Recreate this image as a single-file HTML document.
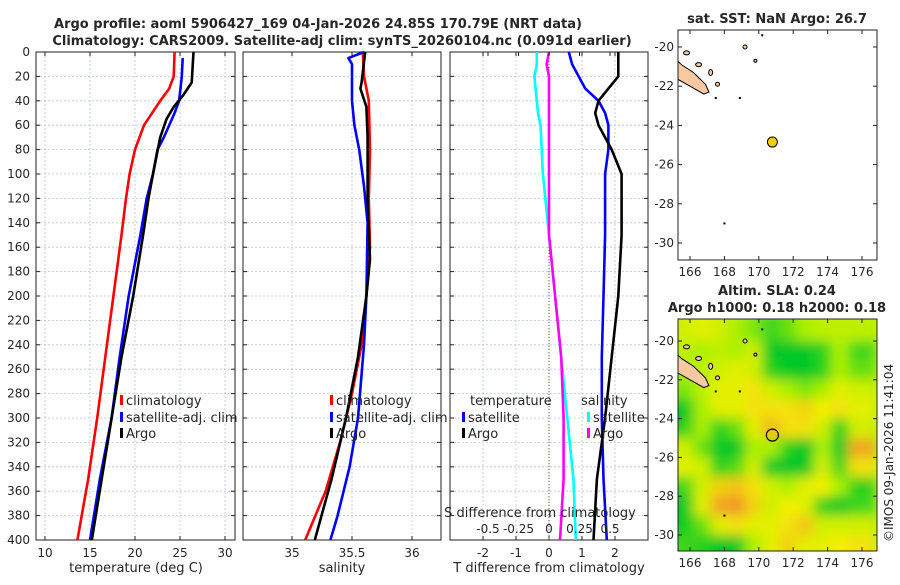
<!DOCTYPE html>
<html><head><meta charset="utf-8"><style>
body{margin:0;background:#fff;width:900px;height:580px;overflow:hidden}
svg{font-family:"DejaVu Sans","Liberation Sans",sans-serif;fill:#262626}
</style></head><body>
<svg id="c" width="900" height="580" viewBox="0 0 900 580">
<defs>
<filter id="bl" x="-5%" y="-5%" width="110%" height="110%"><feGaussianBlur stdDeviation="6"/></filter>
<clipPath id="mc2"><rect x="678" y="319" width="199" height="232"/></clipPath>
<clipPath id="mc1"><rect x="678" y="30" width="199" height="230"/></clipPath>
</defs>
<text x="318" y="28" text-anchor="middle" font-weight="bold" font-size="13">Argo profile: aoml 5906427_169 04-Jan-2026 24.85S 170.79E (NRT data)</text>
<text x="342" y="45" text-anchor="middle" font-weight="bold" font-size="13">Climatology: CARS2009. Satellite-adj clim: synTS_20260104.nc (0.091d earlier)</text>
<text x="777" y="23" text-anchor="middle" font-weight="bold" font-size="13">sat. SST: NaN Argo: 26.7</text>
<text x="777" y="295" text-anchor="middle" font-weight="bold" font-size="13">Altim. SLA: 0.24</text>
<text x="777" y="312" text-anchor="middle" font-weight="bold" font-size="13">Argo h1000: 0.18 h2000: 0.18</text>
<text transform="translate(893,542) rotate(-90)" font-size="12">©IMOS 09-Jan-2026 11:41:04</text>
<g id="g"></g>
</svg>
<script>
const tDepth=[0,20,30,40,60,80,100,120,150,200,250,300,350,400];
const tClim=[24.4,24.3,23.8,22.8,21,20,19.4,19,18.5,17.6,16.7,15.8,14.8,13.6];
const sDepthSat=[5,20,40,50,70,80,100,120,150,200,250,300,350,400];
const tSat=[25.3,25.2,24.9,24.4,23.2,22.5,22,21.3,20.6,19.3,18.3,17.4,16.1,15.0];
const argoDepth=[0,25,35,45,55,70,100,120,150,200,250,300,350,400];
const tArgo=[26.5,26.3,25.4,24.3,23.5,22.8,22,21.5,20.9,19.8,18.5,17.4,16.3,15.2];
const salDepth=[0,20,40,80,120,160,200,240,280,320,360,400];
const sClim=[35.59,35.6,35.64,35.65,35.64,35.65,35.62,35.58,35.5,35.4,35.28,35.11];
const satSDepth=[0,5,10,40,60,80,110,140,200,240,300,340,380,400];
const sSat=[35.6,35.47,35.5,35.5,35.52,35.56,35.6,35.63,35.62,35.6,35.55,35.48,35.38,35.32];
const argoSDepth=[0,25,30,45,70,120,170,200,250,300,350,400];
const sArgo=[35.61,35.58,35.57,35.62,35.63,35.63,35.65,35.62,35.55,35.45,35.33,35.19];
const dDepth=[0,10,20,30,40,50,60,80,100,150,200,250,300,350,400];
const dTSat=[0.6,0.7,0.9,1.1,1.5,1.7,1.8,1.8,1.7,1.7,1.65,1.6,1.6,1.65,1.75];
const dTArgo=[2.1,2.1,2.1,1.8,1.5,1.4,1.5,1.9,2.2,2.2,2.1,1.9,1.7,1.45,1.35];
const dSSat=[-0.1,-0.1,-0.12,-0.11,-0.1,-0.09,-0.07,-0.06,-0.05,0,0.05,0.1,0.15,0.2,0.22];
const dSArgo=[0,-0.02,0,0,0,0,0,0,0,0,0.05,0.1,0.12,0.12,0.09];
const depthTicks=[0,20,40,60,80,100,120,140,160,180,200,220,240,260,280,300,320,340,360,380,400];
const tTicks=[10,15,20,25,30];
const sTicks=[35,35.5,36];
const dTTicks=[-2,-1,0,1,2];
const dSTicks=[-0.5,-0.25,0,0.25,0.5];
const dSLabels=["-0.5","-0.25","0","0.25","0.5"];
const latTicks=[-20,-22,-24,-26,-28,-30];
const lonTicks=[166,168,170,172,174,176];
const slaLats=[-19.5,-20.5,-21.5,-22.5,-23.5,-24.5,-25.5,-26.5,-27.5,-28.5,-29.5,-30.5];
const slaLons=[165.7,166.7,167.7,168.7,169.7,170.7,171.7,172.7,173.7,174.7,175.7];
const sla=[
[0.2,0.3,0.2,0,-0.2,-0.5,-0.3,0,0.1,0.1,0.1],
[0.1,0,0.1,0,0.2,-0.8,-0.9,-0.9,-0.6,0,-0.5],
[0,0.1,0.2,0.3,0.2,-0.6,-0.9,-0.9,-0.6,0,-0.3],
[-0.2,0.1,0.3,0.3,0.5,0.2,0,-0.2,0,0.3,0.2],
[-0.8,0,0.3,0.3,0.5,0.5,0.5,0.6,0.4,0.5,0.3],
[-0.6,0,-0.6,-0.3,0.3,0.8,0.5,0.5,0.2,-0.6,0.2],
[0.2,-0.3,-1,-1,0,0,-0.6,-0.8,0,-0.8,0.9],
[0.3,0.2,-0.6,-0.4,0.2,-0.8,-1,-0.8,0.2,-0.5,0.5],
[-0.5,0.2,0.6,0.7,0.5,0.2,0,0.3,0.4,0,-0.6],
[-0.8,0.3,0.9,1,0.6,0.2,0.4,0.3,-0.6,-0.8,-0.5],
[-0.7,-0.3,0.3,0.5,0.3,0.3,0.5,0.7,0.2,0.2,0.2],
[-0.5,-0.6,-0.9,-0.8,0,0.3,0.6,0.3,0.3,0.4,0.5]];
const floatLon=170.79, floatLat=-24.85;

const NS="http://www.w3.org/2000/svg";
const G=document.getElementById('g');
function mk(tag,at,parent){const e=document.createElementNS(NS,tag);for(const k in at)e.setAttribute(k,at[k]);(parent||G).appendChild(e);return e;}
const Y=d=>52+d*1.22;
const pTop=52,pBot=540;
const panels=[
 {x0:36,x1:235,X:v=>45+(v-10)*9,ticks:tTicks,name:'temperature'},
 {x0:243,x1:441,X:v=>352+(v-35.5)*120,ticks:sTicks,name:'salinity'},
 {x0:450,x1:648,X:v=>549+v*33,ticks:dTTicks,name:'difference'}];
const XS=v=>549+v*122;
panels.forEach((p,i)=>{
 const grp=mk('g',{});
 
 
 depthTicks.forEach(d=>{mk('line',{x1:p.x0,x2:p.x1,y1:Y(d),y2:Y(d),stroke:'#b8c4e0','stroke-width':0.8,'stroke-dasharray':'2,2'},grp);
  mk('line',{x1:p.x0,x2:p.x0+4,y1:Y(d),y2:Y(d),stroke:'#222'},grp);mk('line',{x1:p.x1,x2:p.x1-4,y1:Y(d),y2:Y(d),stroke:'#222'},grp);
  if(i==0){const t=mk('text',{x:30,y:Y(d)+4,'text-anchor':'end','font-size':12},grp);t.textContent=d;}});
 p.ticks.forEach(v=>{const x=p.X(v);mk('line',{x1:x,x2:x,y1:pTop,y2:pBot,stroke:'#b8c4e0','stroke-width':0.8,'stroke-dasharray':'2,2'},grp);
  mk('line',{x1:x,x2:x,y1:pBot,y2:pBot-4,stroke:'#222'},grp);mk('line',{x1:x,x2:x,y1:pTop,y2:pTop+4,stroke:'#222'},grp);
  const t=mk('text',{x:x,y:557,'text-anchor':'middle','font-size':12},grp);t.textContent=v;});
 mk('rect',{x:p.x0,y:pTop,width:p.x1-p.x0,height:pBot-pTop,fill:'none',stroke:'#222','stroke-width':1},grp);
});
function line(xs,ds,X,col,name){const pts=xs.map((v,i)=>X(v).toFixed(1)+','+Y(ds[i]).toFixed(1)).join(' ');
 const e=mk('polyline',{points:pts,fill:'none',stroke:col,'stroke-width':2.6,'stroke-linejoin':'round'});
 
 }
const z=mk('line',{x1:549,x2:549,y1:pTop,y2:pBot,stroke:'#556b2f','stroke-width':1,'stroke-dasharray':'1,2'});


line(tClim,tDepth,panels[0].X,'#f00','temp-climatology-line');
line(tSat,sDepthSat,panels[0].X,'#00f','temp-satellite-line');
line(tArgo,argoDepth,panels[0].X,'#000','temp-argo-line');
line(sClim,salDepth,panels[1].X,'#f00','sal-climatology-line');
line(sSat,satSDepth,panels[1].X,'#00f','sal-satellite-line');
line(sArgo,argoSDepth,panels[1].X,'#000','sal-argo-line');
line(dTSat,dDepth,panels[2].X,'#00f','tdiff-satellite-line');
line(dTArgo,dDepth,panels[2].X,'#000','tdiff-argo-line');
line(dSSat,dDepth,XS,'#0ff','sdiff-satellite-line');
line(dSArgo,dDepth,XS,'#f0f','sdiff-argo-line');
dSTicks.forEach((v,i)=>{const t=mk('text',{x:XS(v),y:533,'text-anchor':'middle','font-size':12});t.textContent=dSLabels[i];
 mk('line',{x1:XS(v),x2:XS(v),y1:pTop,y2:pTop+4,stroke:'#222'});});
function txt(x,y,s,name,anchor,size){const t=mk('text',{x:x,y:y,'text-anchor':anchor||'start','font-size':size||13});t.textContent=s;
 
 return t;}
txt(540,517,'S difference from climatology','s-diff-axis-title','middle');
txt(136,572,'temperature (deg C)','temp-x-axis-title','middle');
txt(342,572,'salinity','sal-x-axis-title','middle');
txt(549,572,'T difference from climatology','t-diff-axis-title','middle');
function leg(x,y,col,s,name){mk('rect',{x:x,y:y-10,width:3,height:10,fill:col});txt(x+6,y,s,name,'start',13);}
leg(120,405,'#f00','climatology','legend-climatology');
leg(120,422,'#00f','satellite-adj. clim','legend-satellite-adj');
leg(120,438,'#000','Argo','legend-argo');
leg(330,405,'#f00','climatology','legend-sal-climatology');
leg(330,422,'#00f','satellite-adj. clim','legend-sal-satellite-adj');
leg(330,438,'#000','Argo','legend-sal-argo');
txt(470,405,'temperature','legend-temp-header');
leg(462,422,'#00f','satellite','legend-tdiff-satellite');
leg(462,438,'#000','Argo','legend-tdiff-argo');
txt(581,405,'salinity','legend-sal-header');
leg(587,422,'#0ff','satellite','legend-sdiff-satellite');
leg(587,438,'#f0f','Argo','legend-sdiff-argo');
const LX=lon=>690+(lon-166)*17.2;
function mapAxes(y0,y1,LY,name){
 const grp=mk('g',{});
 latTicks.forEach(l=>{const y=LY(l);mk('line',{x1:678,x2:682,y1:y,y2:y,stroke:'#222'},grp);mk('line',{x1:877,x2:873,y1:y,y2:y,stroke:'#222'},grp);
  const t=mk('text',{x:674,y:y+4,'text-anchor':'end','font-size':12},grp);t.textContent=l;});
 lonTicks.forEach(l=>{const x=LX(l);mk('line',{x1:x,x2:x,y1:y1,y2:y1-4,stroke:'#222'},grp);mk('line',{x1:x,x2:x,y1:y0,y2:y0+4,stroke:'#222'},grp);
  const t=mk('text',{x:x,y:y1+16,'text-anchor':'middle','font-size':12},grp);t.textContent=l;});
 mk('rect',{x:678,y:y0,width:199,height:y1-y0,fill:'none',stroke:'#222'},grp);}
function islands(LY,clip){
 const grp=mk('g',{'clip-path':'url(#'+clip+')'});
 const nc=[[164.8,-20.3],[165.5,-20.9],[166.2,-21.3],[166.9,-21.9],[167.1,-22.3],[166.8,-22.4],[166.0,-22.0],[164.8,-21.4]];
 mk('polygon',{points:nc.map(p=>LX(p[0])+','+LY(p[1])).join(' '),fill:'#f8c8a0',stroke:'#000','stroke-width':1},grp);
 [[165.8,-20.3,3,2],[166.5,-20.9,3,2],[167.2,-21.3,2,3],[167.6,-21.9,2,2],[169.2,-20.0,2,2],[169.8,-20.7,1.5,1.5]].forEach(e=>
  mk('ellipse',{cx:LX(e[0]),cy:LY(e[1]),rx:e[2],ry:e[3],fill:'#f8c8a0',stroke:'#000','stroke-width':1},grp));
 [[170.2,-19.4],[168.9,-22.6],[168,-29],[167.5,-22.6]].forEach(e=>mk('rect',{x:LX(e[0])-1,y:LY(e[1])-1,width:2,height:2,fill:'#000'},grp));}
const LY1=l=>47+(-20-l)*19.6;
islands(LY1,'mc1');
const m1=mk('circle',{cx:LX(floatLon),cy:LY1(floatLat),r:5,fill:'#f0d000',stroke:'#000','stroke-width':1});

mapAxes(30,260,LY1,'sst-map');
const LY2=l=>341+(-20-l)*19.4;
function col(v){const lerp=(a,b,t)=>a.map((x,i)=>Math.round(x+(b[i]-x)*t));
 let c; if(v<0)c=lerp([170,240,0],[0,200,40],Math.min(1,-v*1.3)); else if(v<0.4)c=lerp([170,240,0],[245,240,0],v/0.4); else c=lerp([245,240,0],[240,150,40],Math.min(1,(v-0.4)/0.6));
 return 'rgb('+c.join(',')+')';}
const hg=mk('g',{'clip-path':'url(#mc2)'});
const hb=mk('g',{filter:'url(#bl)'},hg);

mk('rect',{x:670,y:310,width:215,height:250,fill:col(0)},hb);
sla.forEach((row,r)=>row.forEach((v,c)=>{
 const cell=mk('rect',{x:LX(slaLons[c]-0.5)-(c==0?10:0),y:LY2(slaLats[r]+0.5)-(r==0?10:0),width:17.2+1+(c==0||c==row.length-1?10:0),height:19.4+1+(r==0||r==sla.length-1?10:0),fill:col(v)},hb);
 }));
islands(LY2,'mc2');
const m2=mk('circle',{cx:LX(floatLon),cy:LY2(floatLat),r:6,fill:'none',stroke:'#000','stroke-width':1.2});

mapAxes(319,551,LY2,'sla-map');
</script>
</body></html>
